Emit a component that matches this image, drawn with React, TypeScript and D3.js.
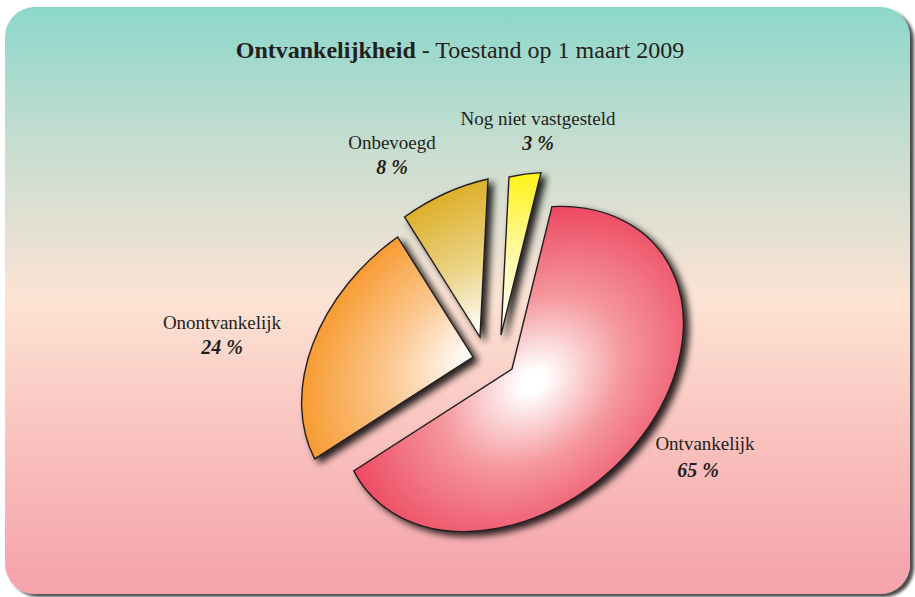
import React from "react";
import * as d3 from "d3";

// ---- data ----
const categories = ["Nog niet vastgesteld", "Ontvankelijk", "Onontvankelijk", "Onbevoegd"];
const values = [3, 65, 24, 8];
const percentLabels = ["3 %", "65 %", "24 %", "8 %"];
const titleBold = "Ontvankelijkheid";
const titleRest = " - Toestand op 1 maart 2009";

// ---- style / layout ----
const W = 915;
const H = 597;
const outerColors = ["#fff200", "#ec3a57", "#f7921e", "#dcae25"];
const midColors = ["#fff9a8", "#f5979c", "#fbc78f", "#ecd58a"];
const center = { x: 494, y: 358 };
const R = 160;
// perspective-like linear distortion of the pie disc
const M = [1.07, -0.2394, -0.05, 0.9875];
const explode = [
  [7, -23],
  [18, 11],
  [-21, -1],
  [-14, -21],
];
const gradCenters = [
  [0, 0, 175],
  [20, 18, 190],
  [0, 0, 178],
  [0, 0, 165],
];
const labelPos = [
  [538, 125],
  [705, 450],
  [222, 329],
  [392, 149],
];
const pctPos = [
  [538, 150],
  [698, 477],
  [222, 354],
  [392, 174],
];
const textColor = "#231f20";
const font = "'Liberation Serif', 'Times New Roman', serif";

export default function App() {
  const pie = d3
    .pie<number>()
    .sort(null)
    .value((d) => d)(values);
  const arc = d3
    .arc<d3.PieArcDatum<number>>()
    .innerRadius(0)
    .outerRadius(R);

  return (
    <svg
      width={W}
      height={H}
      viewBox={`0 0 ${W} ${H}`}
      style={{ position: "absolute", left: 0, top: 0, display: "block" }}
    >
      <defs>
        <linearGradient id="bg" x1="0" y1="0" x2="0" y2="1">
          <stop offset="0" stopColor="#8cd7cb" />
          <stop offset="0.22" stopColor="#c3ddd0" />
          <stop offset="0.5" stopColor="#fde3d4" />
          <stop offset="0.75" stopColor="#f9c0bd" />
          <stop offset="1" stopColor="#f5a2ab" />
        </linearGradient>
        <filter id="cardShadow" x="-5%" y="-5%" width="110%" height="110%">
          <feDropShadow dx="4" dy="3" stdDeviation="1.5" floodColor="#000" floodOpacity="0.7" />
        </filter>
        <filter id="sliceShadow" x="-30%" y="-30%" width="160%" height="160%">
          <feDropShadow dx="5" dy="4" stdDeviation="3.5" floodColor="#000" floodOpacity="0.85" />
        </filter>
        {pie.map((p, i) => (
          <radialGradient
            key={i}
            id={`g${i}`}
            gradientUnits="userSpaceOnUse"
            cx={gradCenters[i][0]}
            cy={gradCenters[i][1]}
            r={gradCenters[i][2]}
          >
            <stop offset="0" stopColor="#ffffff" />
            <stop offset={i === 1 ? 0.06 : 0.02} stopColor="#ffffff" />
            <stop offset="0.45" stopColor={midColors[i]} />
            <stop offset="1" stopColor={outerColors[i]} />
          </radialGradient>
        ))}
      </defs>

      <rect x={5} y={7} width={905} height={587} rx={30} ry={30} fill="url(#bg)" filter="url(#cardShadow)" />

      <text x={460} y={58} textAnchor="middle" fontFamily={font} fontSize={24} fill={textColor}>
        <tspan fontWeight="bold">{titleBold}</tspan>
        <tspan>{titleRest}</tspan>
      </text>

      {pie.map((p, i) => (
        <g key={i} filter="url(#sliceShadow)">
          <g
            transform={`matrix(${M[0]},${M[1]},${M[2]},${M[3]},${center.x + explode[i][0]},${center.y + explode[i][1]})`}
          >
            <path
              d={arc(p) || ""}
              fill={`url(#g${i})`}
              stroke={textColor}
              strokeWidth={1.4}
              strokeLinejoin="miter"
              vectorEffect="non-scaling-stroke"
            />
          </g>
        </g>
      ))}

      {categories.map((c, i) => (
        <g key={c}>
          <text
            x={labelPos[i][0]}
            y={labelPos[i][1]}
            textAnchor="middle"
            fontFamily={font}
            fontSize={19}
            fill={textColor}
          >
            {c}
          </text>
          <text
            x={pctPos[i][0]}
            y={pctPos[i][1]}
            textAnchor="middle"
            fontFamily={font}
            fontSize={20}
            fontWeight="bold"
            fontStyle="italic"
            fill={textColor}
          >
            {percentLabels[i]}
          </text>
        </g>
      ))}
    </svg>
  );
}
